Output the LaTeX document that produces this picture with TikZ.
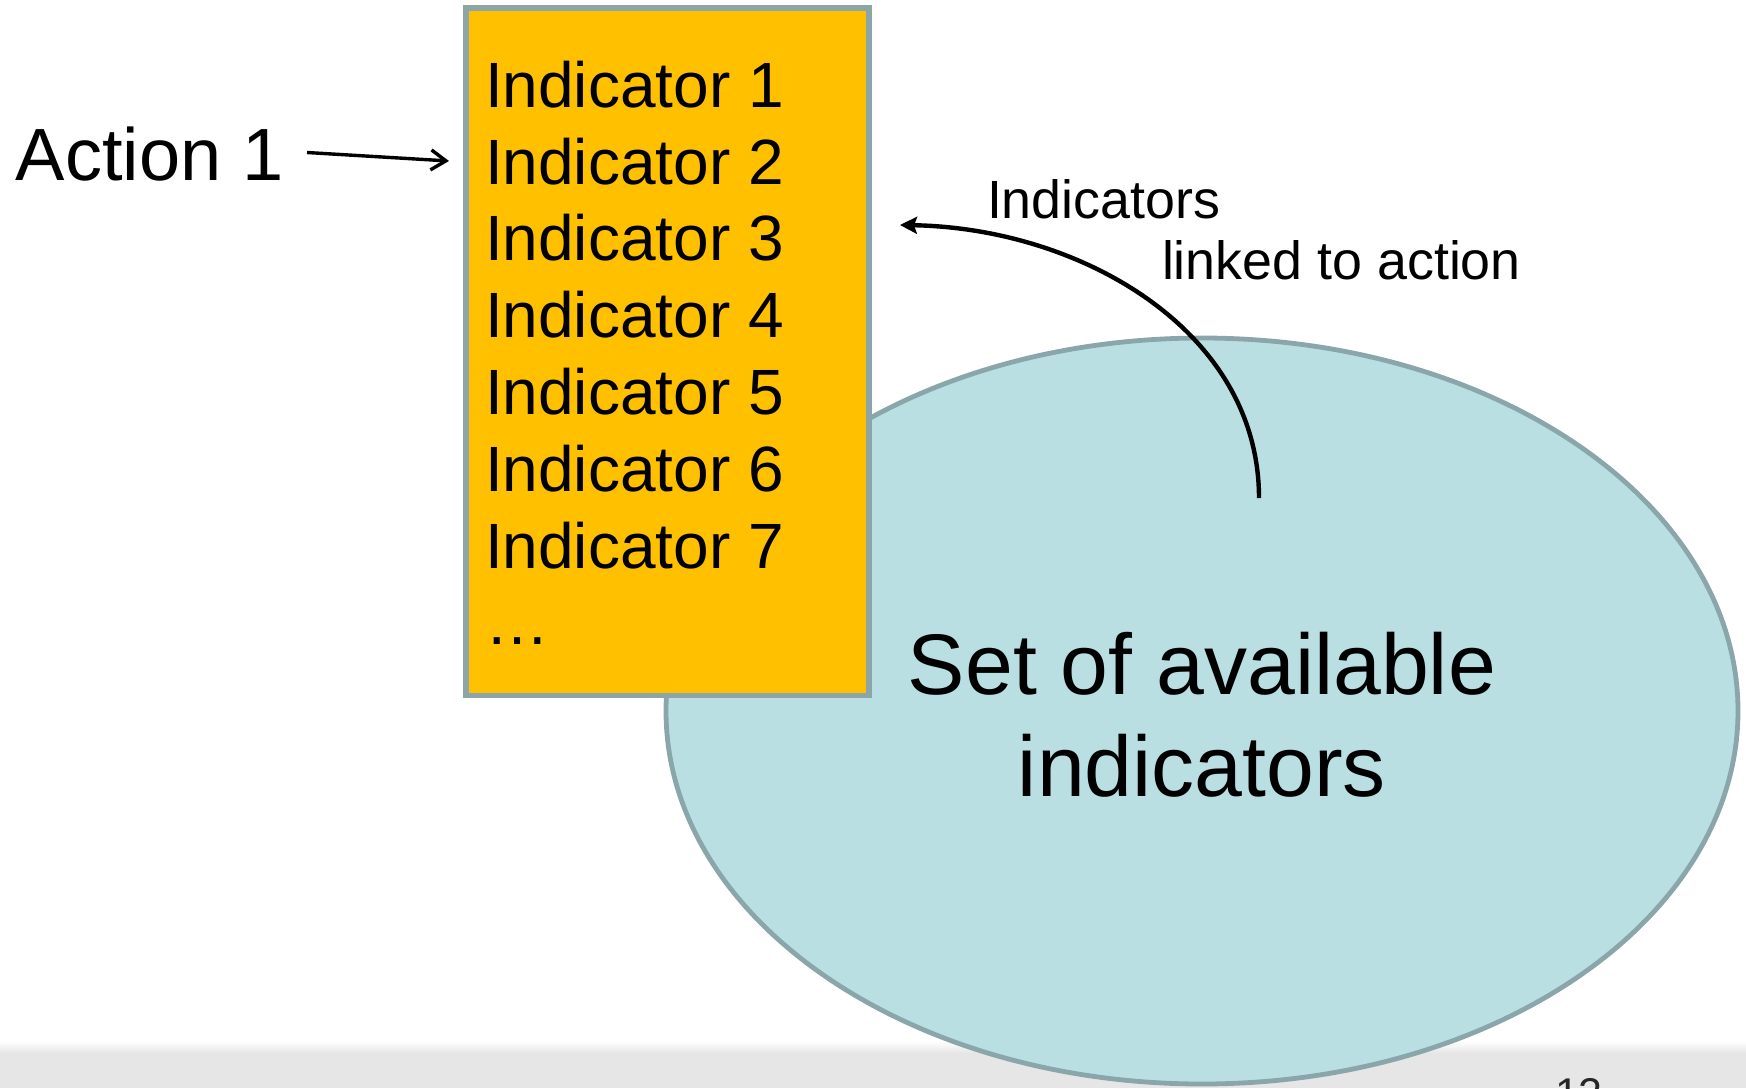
\documentclass[tikz,border=0pt]{standalone}
\usepackage{fontspec}
\setmainfont{Liberation Sans}
\usetikzlibrary{arrows.meta,shapes.geometric}
\definecolor{boxfill}{HTML}{FFC000}
\definecolor{boxline}{HTML}{8CA5A9}
\definecolor{setfill}{HTML}{B9DFE3}
\definecolor{setline}{HTML}{8AA6AB}
\definecolor{barfill}{HTML}{E6E6E6}
\begin{document}
\begin{tikzpicture}[x=1pt,y=-1pt,
  txt/.style={inner sep=0pt, outer sep=0pt, anchor=base west, text=black},
  listtxt/.style={txt, font=\fontsize{64}{64}\selectfont},
  bigtxt/.style={inner sep=0pt, outer sep=0pt, anchor=base, text=black, font=\fontsize{86}{86}\selectfont},
  smalltxt/.style={txt, font=\fontsize{53.8}{53.8}\selectfont},
  pointer/.style={line width=3.4pt, -{Straight Barb[length=15pt,width=20pt]}},
  link/.style={line width=4.4pt, -{Stealth[length=17pt,width=17pt,inset=3pt]}}]
\useasboundingbox (0,0) rectangle (1746,1088);
\clip (0,0) rectangle (1746,1088);

% footer strip with page number
\shade[top color=white, bottom color=barfill] (0,1041) rectangle (1746,1053);
\fill[barfill] (0,1053) rectangle (1746,1088);
\node[txt, font=\fontsize{43}{43}\selectfont, text=black!85] (pageno) at (1555,1108) {12};

% pool of available indicators
\node (pool) [ellipse, draw=setline, fill=setfill, line width=4.8pt,
  minimum width=1072pt, minimum height=746pt, inner sep=0pt, outer sep=0pt] at (1202,711) {};
\node[bigtxt] (pooltop) at (1202,694) {Set of available};
\node[bigtxt] (poolbot) at (1202,796) {indicators};

% indicator list for the action
\node (list) [draw=boxline, fill=boxfill, line width=5.5pt, anchor=north west,
  minimum width=403pt, minimum height=687.5pt, inner sep=0pt, outer sep=0pt] at (466,8) {};
\foreach \i/\yy in {1/107,2/184,3/260,4/337,5/414,6/491,7/568}{
  \node[listtxt] (ind\i) at (485,\yy) {Indicator \i};
}
\node[listtxt] (more) at (485,644) {…};

% action label and its pointer
\node[txt, font=\fontsize{74}{74}\selectfont] (action) at (16,180) {Action 1};
\coordinate (actout) at (307,152.5);
\coordinate (listin) at (449,161);
\draw[pointer] (actout) -- (listin);

% link from the pool back to the list
\node[smalltxt] (lbla) at (987,218) {Indicators};
\node[smalltxt] (lblb) at (1162,279) {linked to action};
\coordinate (linkstart) at (1259,498);
\coordinate (linkend) at (900,225);
\draw[link] (linkstart) .. controls (1259,330) and (1080,228) .. (linkend);
\end{tikzpicture}
\end{document}
